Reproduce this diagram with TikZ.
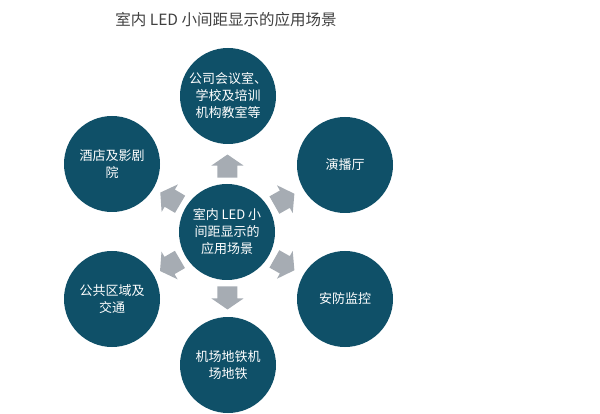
\documentclass[tikz,border=0pt]{standalone}
\usepackage{fontspec}
\newfontfamily\cjk{Noto Sans CJK SC}
\usetikzlibrary{calc}
\definecolor{teal}{HTML}{0F5068}
\definecolor{arrowgray}{HTML}{A6ACB3}
\definecolor{titlegray}{HTML}{404040}
\tikzset{
  bubble/.style={circle, fill=teal, minimum size=96pt, inner sep=0pt, text=white, align=center,
    font=\cjk\fontsize{13}{17}\selectfont},
  blockarr/.pic={\fill[arrowgray] (-11.5,-10) -- (0.5,-10) -- (0.5,-16) -- (11.5,0) -- (0.5,16) -- (0.5,10) -- (-11.5,10) -- cycle;}
}
\begin{document}
\begin{tikzpicture}[x=1pt,y=-1pt]
\useasboundingbox (0,0) rectangle (600,414);
\node[text=titlegray, font=\cjk\fontsize{15.5}{18}\selectfont] (title) at (226,20) {室内 LED 小间距显示的应用场景};
\node[bubble] (C) at (227,232) {室内 LED 小\\间距显示的\\应用场景};
\node[bubble] (T) at (228,96) {公司会议室、\\学校及培训\\机构教室等};
\node[bubble] (LT) at (112,164) {酒店及影剧\\院};
\node[bubble] (RT) at (345,165) {演播厅};
\node[bubble] (LB) at (112,299) {公共区域及\\交通};
\node[bubble] (RB) at (345,299) {安防监控};
\node[bubble] (B) at (228,365) {机场地铁机\\场地铁};
\pic[rotate=90] at ($(C)!66pt!(T)$) {blockarr};
\pic[rotate=29.6] at ($(C)!66pt!(RT)$) {blockarr};
\pic[rotate=149.4] at ($(C)!66pt!(LT)$) {blockarr};
\pic[rotate=210.2] at ($(C)!66pt!(LB)$) {blockarr};
\pic[rotate=-29.6] at ($(C)!66pt!(RB)$) {blockarr};
\pic[rotate=-90] at ($(C)!66pt!(B)$) {blockarr};
\end{tikzpicture}
\end{document}
